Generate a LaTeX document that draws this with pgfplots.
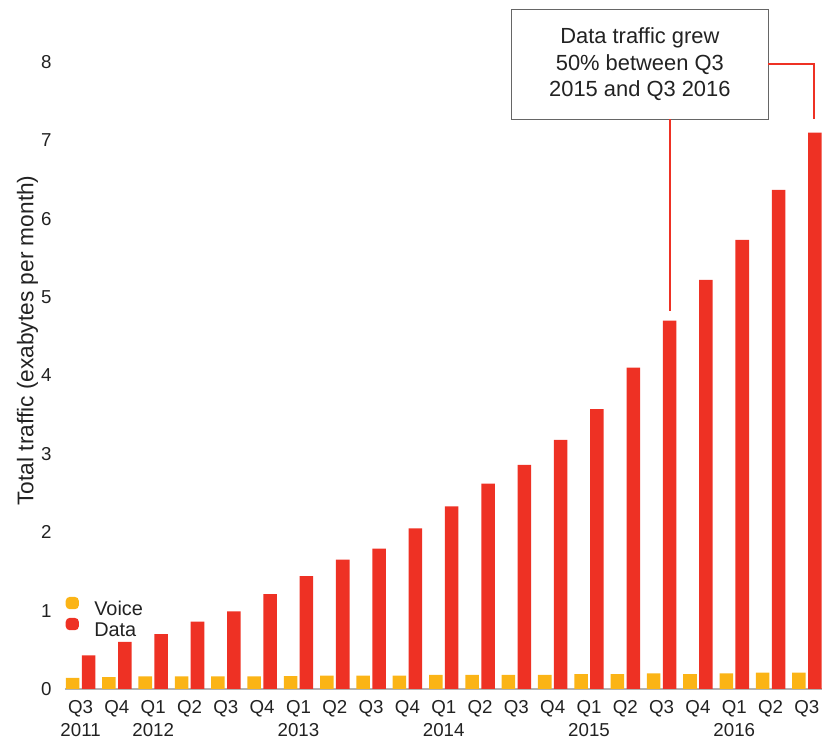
\documentclass[border=0pt]{standalone}
\usepackage{fontspec}
\setmainfont{Liberation Sans}
\usepackage{pgfplots}
\pgfplotsset{compat=1.18}
\definecolor{voice}{HTML}{FBB416}
\definecolor{data}{HTML}{EE3124}
\definecolor{axgray}{HTML}{B3B3B3}
\definecolor{txt}{HTML}{222222}
\definecolor{boxgray}{HTML}{666666}

\begin{document}
\begin{tikzpicture}
\begin{axis}[
  scale only axis, width=380.5pt, height=315pt,
  xmin=-0.44, xmax=20.41, ymin=0, ymax=8,
  clip=false,
  ybar=1.2pt, bar width=6.8pt,
  axis lines*=left,
  y axis line style={draw=none},
  x axis line style={axgray, line width=1pt},
  major tick length=0pt,
  ytick={0,...,8},
  xtick={0,...,20},
  xticklabels={{Q3\\2011},{Q4},{Q1\\2012},Q2,Q3,Q4,{Q1\\2013},Q2,Q3,Q4,{Q1\\2014},Q2,Q3,Q4,{Q1\\2015},Q2,Q3,Q4,{Q1\\2016},Q2,Q3},
  xticklabel style={font=\fontsize{9.4}{12}\selectfont, align=center, text=txt, yshift=-2pt},
  yticklabel style={font=\fontsize{9.4}{11}\selectfont, text=txt, xshift=-3pt},
  /pgf/number format/assume math mode=true,
  ylabel={Total traffic (exabytes per month)},
  ylabel style={font=\fontsize{11.4}{13}\selectfont, at={(axis description cs:-0.049,0.556)}, anchor=center, text=txt},
  legend style={draw=none, fill=none, at={(axis cs:-0.42,1.18)}, anchor=north west,
    font=\fontsize{10}{12}\selectfont, text=txt, row sep=0pt, inner sep=0pt,
    nodes={inner sep=1.25pt, text height=6pt, text depth=0pt},
    /tikz/every odd column/.append style={column sep=6.5pt}},
  legend cell align=left,
  legend image code/.code={\fill[#1, rounded corners=2pt] (0pt,0.1pt) rectangle (6.6pt,6.3pt);},
]
\addplot[fill=voice, draw=none] coordinates {
  (0,0.14) (1,0.15) (2,0.16) (3,0.16) (4,0.16) (5,0.16) (6,0.165)
  (7,0.17) (8,0.17) (9,0.17) (10,0.18) (11,0.18) (12,0.18) (13,0.18)
  (14,0.19) (15,0.19) (16,0.20) (17,0.19) (18,0.20) (19,0.21) (20,0.21)
};
\addplot[fill=data, draw=none] coordinates {
  (0,0.43) (1,0.60) (2,0.70) (3,0.86) (4,0.99) (5,1.21) (6,1.44)
  (7,1.65) (8,1.79) (9,2.05) (10,2.33) (11,2.62) (12,2.86) (13,3.18)
  (14,3.57) (15,4.10) (16,4.70) (17,5.22) (18,5.73) (19,6.37) (20,7.10)
};
\legend{Voice, Data}
% annotation
\node[draw=boxgray, fill=white, line width=0.7pt, minimum width=129pt, minimum height=55pt,
  align=center, font=\fontsize{11}{13.25}\selectfont, text=txt]
  at (axis cs:15.40,7.97) {Data traffic grew\\50\% between Q3\\2015 and Q3 2016};
\draw[data, line width=1pt] (axis cs:16.22,7.27) -- (axis cs:16.22,4.83);
\draw[data, line width=1pt] (axis cs:18.93,7.98) -- (axis cs:20.2,7.98) -- (axis cs:20.2,7.27);
\path (axis cs:-2.219,-0.61) rectangle (axis cs:20.41,8.793);
\end{axis}
\end{tikzpicture}
\end{document}
